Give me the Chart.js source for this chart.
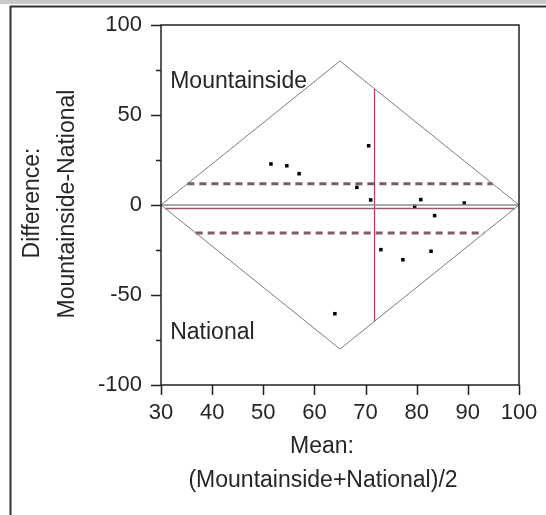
<!DOCTYPE html>
<html>
<head>
<meta charset="utf-8">
<script src="https://cdn.jsdelivr.net/npm/chart.js@4/dist/chart.umd.min.js"></script>
<style>
  html, body { margin: 0; padding: 0; background: #fff; }
  canvas { display: block; }
</style>
</head>
<body>
<canvas id="chart" width="546" height="515"></canvas>
<script>
// means (x) and differences (y) of the paired readings
const meanVals = [51.5, 54.6, 57.0, 68.3, 70.6, 71.0, 73.0, 77.3, 79.6, 80.8, 83.5, 82.8, 89.3, 64.0];
const diffVals = [22.8, 21.8, 17.4, 9.8, 32.9, 2.8, -24.8, -30.4, -0.7, 3.0, -5.9, -25.7, 1.1, -60.4];

// reference lines
const meanDiff = -1.9;
const upperCI = 11.8;
const lowerCI = -15.5;
const meanOfMeans = 71.75;

// diamond (rotated frame of the original axes)
const diamondX = [30, 65, 100, 65, 30];
const diamondY = [0, 80, 0, -80, 0];

// axes
const xTicks = [30, 40, 50, 60, 70, 80, 90, 100];
const yTicks = [-100, -75, -50, -25, 0, 25, 50, 75, 100];

// in-plot labels
const regionLabels = ['Mountainside', 'National'];
const regionLabelX = [31.8, 31.8];
const regionLabelY = [68.5, -71];

const FONT = "'Liberation Sans', Arial, sans-serif";
const TEXT = '#262626';

// half width of the diamond at a given difference, and half height at a given mean
const cx = diamondX[1], halfW = diamondX[2] - diamondX[1], halfH = diamondY[1];
const spanAt = y => halfW * (1 - Math.abs(y) / halfH);
const heightAt = x => halfH * (1 - Math.abs(x - cx) / halfW);
const hLine = y => [{ x: cx - spanAt(y), y }, { x: cx + spanAt(y), y }];

function lineSet(data, color, width, dash) {
  return {
    type: 'line', data, borderColor: color, borderWidth: width,
    borderDash: dash || [], pointRadius: 0, fill: false, tension: 0
  };
}

const framePlugin = {
  id: 'frame',
  beforeDraw(chart) {
    const ctx = chart.ctx;
    ctx.save();
    ctx.fillStyle = '#c9c9c9';
    ctx.fillRect(0, 0, 546, 4);
    ctx.strokeStyle = '#333';
    ctx.lineWidth = 2;
    ctx.beginPath();
    ctx.moveTo(10, 6.5); ctx.lineTo(546, 6.5);
    ctx.moveTo(10.5, 6); ctx.lineTo(10.5, 515);
    ctx.stroke();
    ctx.restore();
  },
  afterDraw(chart) {
    const { ctx, chartArea: a, scales } = chart;
    ctx.save();
    ctx.strokeStyle = '#222';
    ctx.lineWidth = 1.5;
    ctx.strokeRect(a.left, a.top, a.right - a.left, a.bottom - a.top);
    ctx.beginPath();
    yTicks.forEach(v => {
      const y = Math.round(scales.y.getPixelForValue(v)) + 0.5;
      const len = v % 50 === 0 ? 10 : 5;
      ctx.moveTo(a.left - len, y); ctx.lineTo(a.left, y);
    });
    xTicks.forEach(v => {
      const x = Math.round(scales.x.getPixelForValue(v)) + 0.5;
      ctx.moveTo(x, a.bottom); ctx.lineTo(x, a.bottom + 10);
    });
    ctx.stroke();

    ctx.fillStyle = TEXT;
    ctx.font = '23px ' + FONT;
    ctx.textAlign = 'left';
    ctx.textBaseline = 'middle';
    regionLabels.forEach((t, i) => {
      ctx.fillText(t, scales.x.getPixelForValue(regionLabelX[i]), scales.y.getPixelForValue(regionLabelY[i]));
    });

    // axis titles
    ctx.textAlign = 'center';
    ctx.fillText('Mean:', 322, 447);
    ctx.fillText('(Mountainside+National)/2', 323, 481);
    ctx.save();
    ctx.translate(33, 203);
    ctx.rotate(-Math.PI / 2);
    ctx.fillText('Difference:', 0, 0);
    ctx.restore();
    ctx.save();
    ctx.translate(68, 204);
    ctx.rotate(-Math.PI / 2);
    ctx.fillText('Mountainside-National', 0, 0);
    ctx.restore();
    ctx.restore();
  }
};

new Chart(document.getElementById('chart'), {
  type: 'scatter',
  data: {
    datasets: [
      lineSet(diamondX.map((x, i) => ({ x, y: diamondY[i] })), '#7c7c7c', 1),
      lineSet([{ x: diamondX[0], y: 0 }, { x: diamondX[2], y: 0 }], '#8c8c8c', 1.5),
      lineSet(hLine(meanDiff), '#9b5a6c', 1.5),
      lineSet(hLine(upperCI), '#7d5b66', 3, [7, 5]),
      lineSet(hLine(lowerCI), '#7d5b66', 3, [7, 5]),
      lineSet([{ x: meanOfMeans, y: -heightAt(meanOfMeans) }, { x: meanOfMeans, y: heightAt(meanOfMeans) }], '#b03a58', 1.2),
      {
        data: meanVals.map((x, i) => ({ x, y: diffVals[i] })),
        pointStyle: 'rect', pointRadius: 2.5, pointBorderWidth: 0,
        backgroundColor: '#000', borderColor: '#000'
      }
    ]
  },
  options: {
    responsive: false,
    animation: false,
    events: [],
    layout: { autoPadding: false, padding: { left: 0, right: 27, top: 25, bottom: 0 } },
    plugins: { legend: { display: false }, tooltip: { enabled: false } },
    scales: {
      x: {
        type: 'linear', min: 30, max: 100,
        afterFit: s => { s.height = 130; s.paddingLeft = 0; s.paddingRight = 0; },
        afterBuildTicks: s => { s.ticks = xTicks.map(value => ({ value })); },
        grid: { display: false, drawTicks: false },
        border: { display: false },
        ticks: { padding: 15, color: TEXT, font: { family: FONT, size: 22, lineHeight: 1.2 }, maxRotation: 0 }
      },
      y: {
        type: 'linear', min: -100, max: 100,
        afterFit: s => { s.width = 161; s.paddingTop = 0; s.paddingBottom = 0; },
        afterBuildTicks: s => { s.ticks = yTicks.map(value => ({ value })); },
        grid: { display: false, drawTicks: false },
        border: { display: false },
        ticks: {
          padding: 19, color: TEXT, font: { family: FONT, size: 22, lineHeight: 1.2 },
          callback: v => (v % 50 === 0 ? String(v) : '')
        }
      }
    }
  },
  plugins: [framePlugin]
});
</script>
</body>
</html>
